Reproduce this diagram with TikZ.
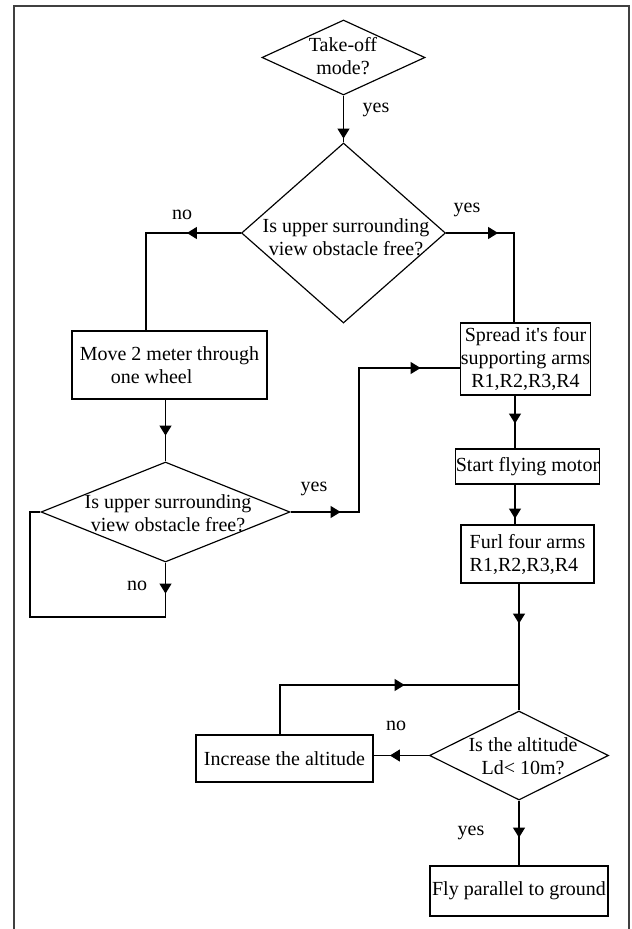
\documentclass[tikz,border=0pt]{standalone}
\usepackage{fontspec}
\setmainfont{Liberation Serif}
\usetikzlibrary{shapes.geometric,arrows.meta,decorations.markings}
\tikzset{
  decision/.style 2 args={draw, shape=diamond, inner sep=0pt,
    minimum width=#1*0.6pt, minimum height=#2*0.6pt},
  process/.style 2 args={draw, rectangle, inner sep=0pt,
    minimum width=#1*0.6pt, minimum height=#2*0.6pt},
  words/.style={align=center, inner sep=0pt, font=\fontsize{12}{13.8}\selectfont},
  lbl/.style={inner sep=0pt, font=\fontsize{12}{13.8}\selectfont},
  tipat/.style={postaction={decorate, decoration={markings,
    mark=at position #1 with {\arrow{Triangle[width=7.2pt,length=6pt]}}}}}
}

\begin{document}
\begin{tikzpicture}[x=0.6pt, y=-0.6pt, line width=0.7pt]
  \useasboundingbox (0,0) rectangle (631,929);
  \draw[line width=1pt, black!75] (14,929) -- (14,6) -- (629,6) -- (629,929);

  % decisions
  \node[decision={163}{75}] (takeoff) at (343.5,57.5) {};
  \node[words] (takeofftxt) at (343,56) {Take-off\\mode?};
  \node[decision={204}{180}] (upper) at (343.5,233) {};
  \node[words] (uppertxt) at (346,237) {Is upper surrounding\\view obstacle free?};
  \node[decision={249}{100}] (lower) at (165.5,512) {};
  \node[words] (lowertxt) at (168,513) {Is upper surrounding\\view obstacle free?};
  \node[decision={179}{89}] (altitude) at (519,755.5) {};
  \node[words] (altitudetxt) at (523,756) {Is the altitude\\Ld< 10m?};

  % processes
  \node[process={195}{68}, words, align=left] (move) at (169.5,365) {Move 2 meter through\\\hspace*{18.6pt}one wheel};
  \node[process={129}{72}, words] (spread) at (525.5,359) {Spread it\textquotesingle s four\\supporting arms\\R1,R2,R3,R4};
  \node[process={139}{35}, words] (start) at (527.5,466.5) {Start flying motor};
  \node[process={133}{58}, words, align=left] (furl) at (527.5,554) {Furl four arms\\R1,R2,R3,R4};
  \node[process={177}{47}, words] (increase) at (284.5,758.5) {Increase the altitude};
  \node[process={178}{50}, words] (fly) at (519,891) {Fly parallel to ground};

  % labels
  \node[lbl] (yesa) at (376,110) {yes};
  \node[lbl] (noa) at (182,215) {no};
  \node[lbl] (yesb) at (467,210) {yes};
  \node[lbl] (yesc) at (314,489) {yes};
  \node[lbl] (nob) at (137,586) {no};
  \node[lbl] (noc) at (396,726) {no};
  \node[lbl] (yesd) at (471,833) {yes};

  % bends
  \coordinate (nocorner) at (146,233);
  \coordinate (yescorner) at (514,233);
  \coordinate (bendlow) at (359,512);
  \coordinate (bendhigh) at (359,368);
  \coordinate (loopa) at (165.5,617);
  \coordinate (loopb) at (30,617);
  \coordinate (colx) at (515,0);
  \coordinate (join) at (519,685);
  \coordinate (loopup) at (280,685);

  % connectors
  \draw[tipat=25.8pt] (takeoff.south) -- (upper.north);
  \draw[tipat=32.4pt] (upper.west) -- (nocorner) -- (nocorner |- move.north);
  \draw[tipat=31.2pt] (upper.east) -- (yescorner) -- (yescorner |- spread.north);
  \draw[tipat=21.6pt] (move.south -| lower.north) -- (lower.north);
  \draw[tipat=30pt, tipat=164.4pt] (lower.east) -- (bendlow) -- (bendhigh) -- (bendhigh -| spread.west);
  \draw[tipat=18.6pt] (lower.south) -- (loopa) -- (loopb) -- (loopb |- lower.west) -- (lower.west);
  \draw[tipat=16.8pt] (spread.south -| colx) -- (start.north -| colx);
  \draw[tipat=20.4pt] (start.south -| colx) -- (furl.north -| colx);
  \draw[tipat=24pt] (furl.south -| altitude.north) -- (altitude.north);
  \draw[tipat=23.4pt] (altitude.west) -- (altitude.west -| increase.east);
  \draw[tipat=104.4pt] (increase.north -| loopup) -- (loopup) -- (join);
  \draw[tipat=22.2pt] (altitude.south) -- (fly.north);
\end{tikzpicture}
\end{document}
